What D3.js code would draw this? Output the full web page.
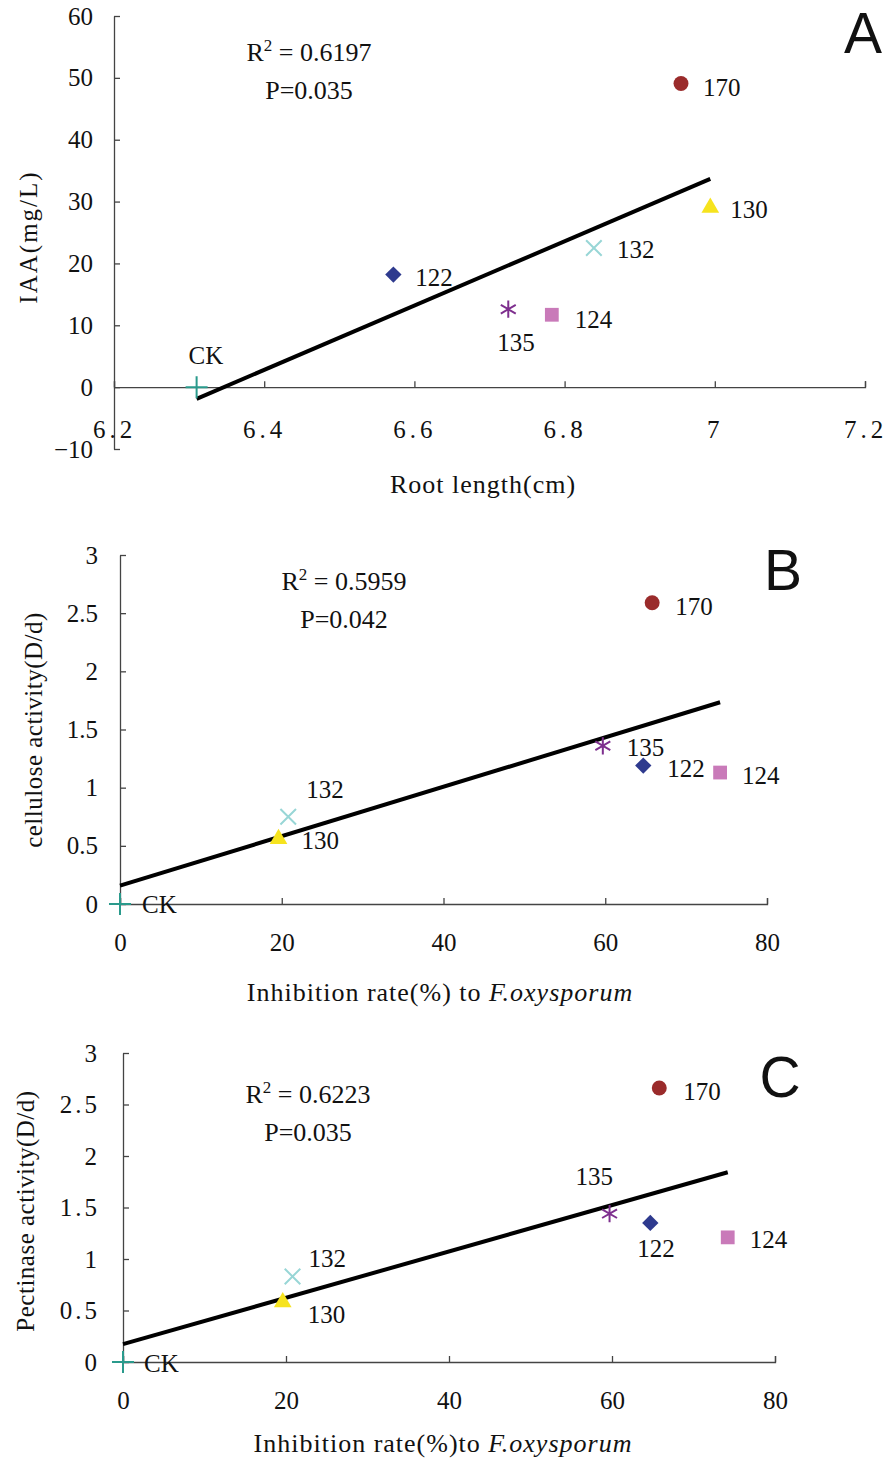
<!DOCTYPE html>
<html>
<head>
<meta charset="utf-8">
<script src="https://cdn.jsdelivr.net/npm/d3@7"></script>
<style>
    body { margin: 0; background: #fff; }
    text { font-family: "Liberation Serif", "Times New Roman", serif; fill: #111; }
</style>
</head>
<body>
<script>
// Strains, in the same order in every array
var strains = ["CK", "122", "135", "124", "132", "130", "170"];
var strainColors = ["#2a9a8c", "#2e3a8e", "#7e2f8e", "#c97ab9", "#98d6d6", "#f6e31e", "#9a2b2b"];

// Panel A: root length vs IAA
var rootLength = [6.31, 6.572, 6.725, 6.783, 6.839, 6.994, 6.955];
var iaa = [0, 18.2, 12.6, 11.7, 22.5, 29.0, 49.1];

// Panels B and C: inhibition rate vs enzyme activity
var inhibitionRate = [0, 64.7, 59.7, 74.2, 20.8, 19.6, 65.8];
var cellulose = [0, 1.19, 1.36, 1.13, 0.75, 0.56, 2.59];
var pectinase = [0, 1.35, 1.44, 1.21, 0.83, 0.58, 2.66];

// Tick labels
var rootTicks = [6.2, 6.4, 6.6, 6.8, 7.0, 7.2];
var iaaTicks = [-10, 0, 10, 20, 30, 40, 50, 60];
var rateTicks = [0, 20, 40, 60, 80];
var activityTicks = [0, 0.5, 1, 1.5, 2, 2.5, 3];

// Fit statistics printed on each panel
var rSquared = ["0.6197", "0.5959", "0.6223"];
var pValues = ["0.035", "0.042", "0.035"];

var symbols = [d3.symbolPlus, d3.symbolDiamond2, d3.symbolAsterisk, d3.symbolSquare,
    d3.symbolTimes, d3.symbolTriangle, d3.symbolCircle];
var symbolSizes = [160, 170, 210, 190, 160, 135, 175];

var svg = d3.select("body").append("svg")
    .attr("width", 890)
    .attr("height", 1458);

function linearFit(xs, ys) {
    var mx = d3.mean(xs), my = d3.mean(ys);
    var sxy = d3.sum(xs, function (x, i) { return (x - mx) * (ys[i] - my); });
    var sxx = d3.sum(xs, function (x) { return (x - mx) * (x - mx); });
    var slope = sxy / sxx;
    return { slope: slope, intercept: my - slope * mx };
}

function drawPanel(p) {
    var g = svg.append("g");
    var x = d3.scaleLinear().domain(p.xDomain).range(p.xRange);
    var y = d3.scaleLinear().domain(p.yDomain).range(p.yRange);

    // Y axis with inward ticks
    var yAxis = g.append("g")
        .attr("transform", "translate(" + p.xRange[0] + ",0)")
        .call(d3.axisLeft(y).tickValues(p.yTicks).tickFormat(p.yFormat)
            .tickSize(-6).tickSizeOuter(0).tickPadding(p.yPad));

    // X axis sitting on y = 0, ticks pointing up
    var xAxis = g.append("g")
        .attr("transform", "translate(0," + y(0) + ")")
        .call(d3.axisBottom(x).tickValues(p.xTicks).tickFormat(p.xFormat)
            .tickSize(-6).tickSizeOuter(-6).tickPadding(p.xPad));

    [yAxis, xAxis].forEach(function (a) {
        a.selectAll("path, line").attr("stroke", "#444").attr("stroke-width", 1.3);
        a.selectAll("text").attr("fill", "#111")
            .style("font-family", "'Liberation Serif', serif")
            .style("font-size", "25px");
    });
    xAxis.selectAll("text").style("letter-spacing", p.xTickSpacing);
    yAxis.selectAll("text").style("letter-spacing", p.yTickSpacing);

    // Trend line over the range of the data
    var fit = linearFit(p.xs, p.ys);
    var ends = d3.extent(p.xs);
    g.append("path")
        .datum(ends)
        .attr("fill", "none")
        .attr("stroke", "#000")
        .attr("stroke-width", 4)
        .attr("d", d3.line()
            .x(function (d) { return x(d); })
            .y(function (d) { return y(fit.intercept + fit.slope * d); }));

    // Points
    var pts = strains.map(function (s, i) { return { name: s, x: p.xs[i], y: p.ys[i], i: i }; });
    var stroked = function (i) { return i === 0 || i === 2 || i === 4; };
    g.selectAll(".pt")
        .data(pts)
        .enter().append("path")
        .attr("class", "pt")
        .attr("transform", function (d) { return "translate(" + x(d.x) + "," + y(d.y) + ")"; })
        .attr("d", function (d) { return d3.symbol().type(symbols[d.i]).size(symbolSizes[d.i])(); })
        .attr("fill", function (d) { return stroked(d.i) ? "none" : strainColors[d.i]; })
        .attr("stroke", function (d) { return stroked(d.i) ? strainColors[d.i] : "none"; })
        .attr("stroke-width", 2);

    // Point labels
    g.selectAll(".lbl")
        .data(pts)
        .enter().append("text")
        .attr("class", "lbl")
        .attr("x", function (d) { return x(d.x) + p.offsets[d.i][0]; })
        .attr("y", function (d) { return y(d.y) + p.offsets[d.i][1]; })
        .style("font-size", "25px")
        .text(function (d) { return d.name; });

    // Fit statistics
    var r = g.append("text")
        .attr("x", p.statX)
        .attr("y", p.statY)
        .attr("text-anchor", "middle")
        .style("font-size", "26px");
    r.append("tspan").text("R");
    r.append("tspan").attr("dy", -10).style("font-size", "17px").text("2");
    r.append("tspan").attr("dy", 10).text(" = " + rSquared[p.index]);
    g.append("text")
        .attr("x", p.statX)
        .attr("y", p.statY + 38)
        .attr("text-anchor", "middle")
        .style("font-size", "26px")
        .text("P=" + pValues[p.index]);

    // Axis titles
    var xt = g.append("text")
        .attr("x", p.xTitleX)
        .attr("y", p.xTitleY)
        .attr("text-anchor", "middle")
        .style("font-size", "26px")
        .style("letter-spacing", "1px");
    xt.append("tspan").text(p.xTitle);
    if (p.xTitleItalic) {
        xt.append("tspan").style("font-style", "italic").text(p.xTitleItalic);
    }
    g.append("text")
        .attr("transform", "translate(" + p.yTitleX + "," + p.yTitleY + ") rotate(-90)")
        .attr("text-anchor", "middle")
        .attr("dominant-baseline", "central")
        .style("font-size", "25px")
        .style("letter-spacing", p.yTitleSpacing)
        .text(p.yTitle);

    // Panel letter
    g.append("text")
        .attr("x", p.letterX)
        .attr("y", p.letterY)
        .attr("text-anchor", "middle")
        .style("font-family", "'Liberation Sans', Arial, sans-serif")
        .style("font-size", "57px")
        .text(p.letter);
}

var fmtDot = function (d) { return d3.format(".1f")(d); };
var fmtAct = function (d) { return String(d); };

drawPanel({
    index: 0, letter: "A", xs: rootLength, ys: iaa,
    xDomain: [6.2, 7.2], xRange: [114, 865], yDomain: [-10, 60], yRange: [449, 16],
    xTicks: rootTicks, yTicks: iaaTicks,
    xFormat: function (d) { return d === 7 ? "7" : fmtDot(d); },
    yFormat: function (d) { return d < 0 ? "\u2212" + (-d) : String(d); },
    xPad: 33, yPad: 21, xTickSpacing: "4px", yTickSpacing: "0px",
    offsets: [[-8, -23], [22, 11], [-11, 42], [23, 13], [23, 10], [20, 10], [22, 13]],
    statX: 309, statY: 61,
    xTitle: "Root length(cm)", xTitleX: 483, xTitleY: 493,
    yTitle: "IAA(mg/L)", yTitleX: 28, yTitleY: 237, yTitleSpacing: "2px",
    letterX: 863, letterY: 53
});

drawPanel({
    index: 1, letter: "B", xs: inhibitionRate, ys: cellulose,
    xDomain: [0, 80], xRange: [120, 767], yDomain: [0, 3], yRange: [904, 555],
    xTicks: rateTicks, yTicks: activityTicks,
    xFormat: fmtAct, yFormat: fmtAct,
    xPad: 29, yPad: 22, xTickSpacing: "0px", yTickSpacing: "0px",
    offsets: [[22, 9], [24, 11], [24, 10], [22, 11], [18, -19], [23, 10], [23, 12]],
    statX: 344, statY: 590,
    xTitle: "Inhibition rate(%) to ", xTitleItalic: "F.oxysporum", xTitleX: 440, xTitleY: 1001,
    yTitle: "cellulose activity(D/d)", yTitleX: 33, yTitleY: 730, yTitleSpacing: "0.5px",
    letterX: 783, letterY: 590
});

drawPanel({
    index: 2, letter: "C", xs: inhibitionRate, ys: pectinase,
    xDomain: [0, 80], xRange: [123, 775], yDomain: [0, 3], yRange: [1362, 1053],
    xTicks: rateTicks, yTicks: activityTicks,
    xFormat: fmtAct, yFormat: fmtAct,
    xPad: 29, yPad: 23, xTickSpacing: "0px", yTickSpacing: "3px",
    offsets: [[21, 10], [-13, 34], [-34, -29], [22, 11], [16, -10], [25, 21], [24, 12]],
    statX: 308, statY: 1103,
    xTitle: "Inhibition rate(%)to ", xTitleItalic: "F.oxysporum", xTitleX: 443, xTitleY: 1452,
    yTitle: "Pectinase activity(D/d)", yTitleX: 25, yTitleY: 1211, yTitleSpacing: "0.5px",
    letterX: 780, letterY: 1097
});
</script>
</body>
</html>
